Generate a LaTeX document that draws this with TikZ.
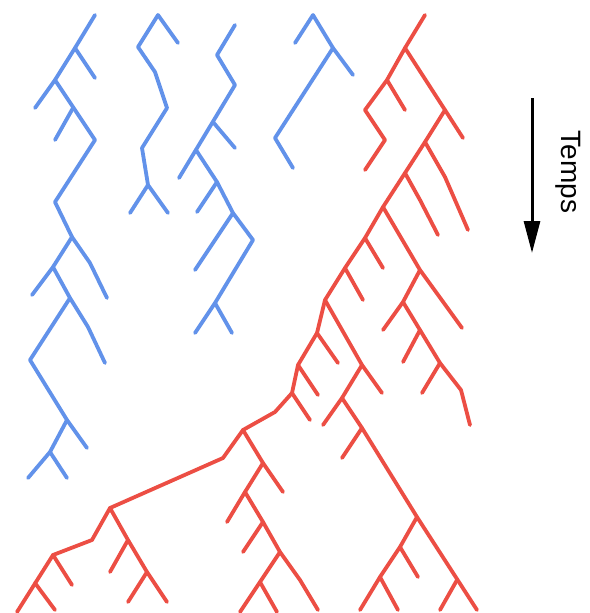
\documentclass[tikz,border=0pt]{standalone}
\usepackage{fontspec}
\newfontfamily\tempsfont{Liberation Sans}
\usetikzlibrary{arrows.meta}
\definecolor{lineageblue}{RGB}{98,146,234}
\definecolor{lineagered}{RGB}{236,78,68}
\begin{document}
\begin{tikzpicture}[x=1pt,y=-1pt,
  bl/.style={draw=lineageblue,line width=3.8pt,line cap=round,line join=round},
  rd/.style={draw=lineagered,line width=3.8pt,line cap=round,line join=round}]
 \useasboundingbox (0,0) rectangle (589,613);
 \draw[bl] (95,15)--(75,48)--(55,80)--(35,108);
 \draw[bl] (75,48)--(95,78);
 \draw[bl] (55,80)--(95,140)--(55,202)--(72,237)--(90,263)--(107,298);
 \draw[bl] (73,108)--(55,140);
 \draw[bl] (72,237)--(53,267)--(32,295);
 \draw[bl] (53,267)--(70,298)--(88,327)--(105,363);
 \draw[bl] (70,298)--(30,360)--(67,420)--(87,448);
 \draw[bl] (67,420)--(50,452)--(28,478);
 \draw[bl] (50,452)--(67,478);
 \draw[bl] (178,43)--(158,15)--(138,47)--(155,72)--(167,108)--(142,148)--(148,185)--(130,213);
 \draw[bl] (148,185)--(168,213);
 \draw[bl] (235,25)--(217,55)--(235,85)--(179,178);
 \draw[bl] (213,122)--(235,148);
 \draw[bl] (196,150)--(217,182)--(233,213)--(253,240)--(215,303)--(195,333);
 \draw[bl] (217,182)--(197,212);
 \draw[bl] (233,213)--(195,270);
 \draw[bl] (215,303)--(232,333);
 \draw[bl] (295,43)--(313,15)--(333,48)--(353,75);
 \draw[bl] (333,48)--(275,138)--(293,168);
 \draw[rd] (425,15)--(405,48)--(387,80)--(365,110)--(385,140)--(365,170);
 \draw[rd] (387,80)--(405,110);
 \draw[rd] (405,48)--(445,110)--(463,138);
 \draw[rd] (445,110)--(425,142)--(405,173)--(383,207)--(365,238)--(345,268)--(325,300)--(317,333)--(298,365)--(292,393)--(275,412)--(243,430)--(223,458)--(110,508)--(92,540)--(53,555)--(17,612);
 \draw[rd] (425,142)--(445,177)--(468,230);
 \draw[rd] (405,173)--(420,200)--(438,235);
 \draw[rd] (383,207)--(420,270)--(462,328);
 \draw[rd] (420,270)--(403,302)--(383,330);
 \draw[rd] (403,302)--(440,363)--(461,390)--(470,425);
 \draw[rd] (420,330)--(403,362);
 \draw[rd] (440,363)--(422,393);
 \draw[rd] (365,238)--(383,268);
 \draw[rd] (345,268)--(363,300);
 \draw[rd] (325,300)--(362,365)--(382,393);
 \draw[rd] (362,365)--(342,398)--(323,425);
 \draw[rd] (342,398)--(362,428)--(417,517)--(477,610);
 \draw[rd] (362,428)--(342,458);
 \draw[rd] (417,517)--(400,547)--(380,577)--(360,610);
 \draw[rd] (400,547)--(418,577);
 \draw[rd] (380,577)--(398,610);
 \draw[rd] (457,580)--(440,610);
 \draw[rd] (317,333)--(338,363);
 \draw[rd] (298,365)--(318,395);
 \draw[rd] (292,393)--(310,420);
 \draw[rd] (243,430)--(263,463)--(283,492);
 \draw[rd] (263,463)--(245,492)--(227,522);
 \draw[rd] (245,492)--(263,522)--(280,552)--(300,580)--(318,610);
 \draw[rd] (263,522)--(243,552);
 \draw[rd] (280,552)--(260,582)--(240,612);
 \draw[rd] (260,582)--(277,612);
 \draw[rd] (110,508)--(128,540)--(147,572)--(167,602);
 \draw[rd] (128,540)--(110,572);
 \draw[rd] (147,572)--(128,602);
 \draw[rd] (53,555)--(72,585);
 \draw[rd] (35,583)--(55,610);
 \coordinate (t0) at (532,98);
 \coordinate (t1) at (532,253);
 \draw[line width=3pt,-{Triangle[length=32pt,width=16pt]}] (t0)--(t1);
 \node[rotate=-90,font=\tempsfont\fontsize{28}{32}\selectfont] (temps) at (568,172) {Temps};
\end{tikzpicture}
\end{document}
